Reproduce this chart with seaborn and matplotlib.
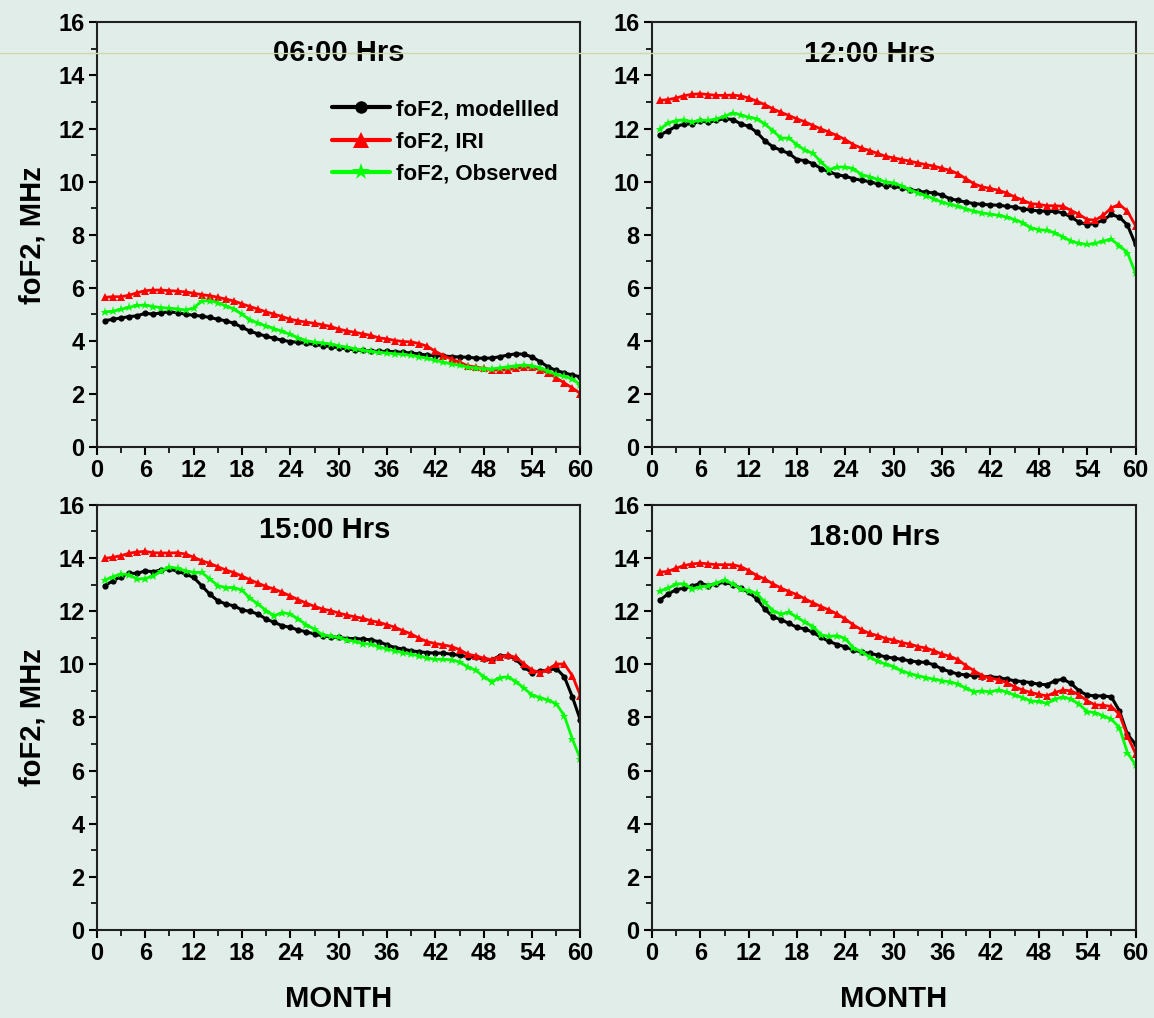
import numpy as np
import pandas as pd
import matplotlib.pyplot as plt
import seaborn as sns
from matplotlib.lines import Line2D
from matplotlib.ticker import MultipleLocator

sns.set_style("ticks")
plt.rcParams["font.family"] = ["Liberation Sans", "DejaVu Sans"]
plt.rcParams["font.weight"] = "bold"
plt.rcParams["text.color"] = "black"
plt.rcParams["axes.labelcolor"] = "black"
plt.rcParams["xtick.color"] = "black"
plt.rcParams["ytick.color"] = "black"

BG = "#e0ede8"

# ------------------------------------------------------------
# data (month 1..60)
# ------------------------------------------------------------
months = list(range(1, 61))

# 06:00 Hrs
mod_06 = [4.76, 4.81, 4.86, 4.91, 4.94, 5.04, 5.00, 5.06, 5.09, 5.06,
          5.00, 4.96, 4.93, 4.88, 4.81, 4.75, 4.66, 4.51, 4.36, 4.26,
          4.17, 4.09, 4.02, 3.97, 3.94, 3.90, 3.86, 3.82, 3.78, 3.74,
          3.70, 3.66, 3.64, 3.61, 3.60, 3.60, 3.59, 3.56, 3.54, 3.50,
          3.46, 3.44, 3.43, 3.40, 3.39, 3.38, 3.35, 3.34, 3.35, 3.40,
          3.46, 3.51, 3.49, 3.39, 3.21, 3.01, 2.88, 2.79, 2.71, 2.64]
iri_06 = [5.64, 5.66, 5.66, 5.72, 5.81, 5.89, 5.91, 5.91, 5.89, 5.87,
          5.84, 5.79, 5.74, 5.70, 5.64, 5.57, 5.50, 5.39, 5.29, 5.19,
          5.09, 5.00, 4.91, 4.81, 4.75, 4.70, 4.66, 4.60, 4.54, 4.44,
          4.37, 4.32, 4.26, 4.20, 4.11, 4.07, 4.01, 3.97, 3.96, 3.89,
          3.79, 3.60, 3.44, 3.31, 3.19, 3.06, 3.01, 2.96, 2.91, 2.89,
          2.91, 2.96, 3.00, 3.00, 2.91, 2.79, 2.60, 2.41, 2.22, 2.01]
obs_06 = [5.09, 5.11, 5.19, 5.26, 5.33, 5.35, 5.29, 5.25, 5.23, 5.20,
          5.16, 5.23, 5.50, 5.51, 5.44, 5.31, 5.20, 5.00, 4.79, 4.66,
          4.56, 4.46, 4.35, 4.24, 4.11, 4.00, 3.95, 3.92, 3.88, 3.81,
          3.76, 3.70, 3.65, 3.60, 3.56, 3.54, 3.51, 3.49, 3.45, 3.40,
          3.34, 3.26, 3.19, 3.13, 3.08, 3.01, 2.98, 2.95, 2.94, 2.98,
          3.02, 3.06, 3.09, 3.06, 2.98, 2.85, 2.73, 2.66, 2.56, 2.35]

# 12:00 Hrs
mod_12 = [11.75, 11.92, 12.08, 12.17, 12.17, 12.30, 12.23, 12.31, 12.37, 12.34,
          12.18, 12.08, 11.86, 11.54, 11.31, 11.18, 11.06, 10.83, 10.79, 10.67,
          10.49, 10.36, 10.26, 10.20, 10.11, 10.05, 10.00, 9.91, 9.85, 9.83,
          9.76, 9.70, 9.64, 9.60, 9.57, 9.49, 9.35, 9.29, 9.22, 9.17,
          9.14, 9.12, 9.11, 9.07, 9.04, 8.98, 8.92, 8.90, 8.87, 8.88,
          8.82, 8.66, 8.47, 8.38, 8.42, 8.55, 8.76, 8.66, 8.36, 7.63]
iri_12 = [13.06, 13.09, 13.15, 13.24, 13.29, 13.31, 13.28, 13.25, 13.25, 13.26,
          13.23, 13.15, 13.03, 12.90, 12.74, 12.61, 12.49, 12.36, 12.25, 12.11,
          11.98, 11.86, 11.73, 11.58, 11.39, 11.26, 11.17, 11.06, 10.95, 10.89,
          10.83, 10.77, 10.70, 10.64, 10.58, 10.50, 10.42, 10.29, 10.10, 9.91,
          9.80, 9.74, 9.67, 9.57, 9.42, 9.30, 9.17, 9.14, 9.09, 9.09,
          9.07, 8.91, 8.76, 8.57, 8.55, 8.73, 9.01, 9.14, 8.88, 8.34]
obs_12 = [11.98, 12.21, 12.30, 12.33, 12.25, 12.31, 12.31, 12.36, 12.46, 12.59,
          12.52, 12.42, 12.37, 12.17, 11.92, 11.64, 11.64, 11.39, 11.18, 11.06,
          10.73, 10.45, 10.55, 10.55, 10.49, 10.26, 10.18, 10.08, 9.99, 9.95,
          9.83, 9.70, 9.57, 9.47, 9.35, 9.22, 9.14, 9.07, 8.97, 8.88,
          8.82, 8.77, 8.73, 8.66, 8.57, 8.45, 8.26, 8.19, 8.16, 8.07,
          7.91, 7.76, 7.67, 7.63, 7.67, 7.76, 7.82, 7.59, 7.32, 6.54]

# 15:00 Hrs
mod_15 = [12.96, 13.15, 13.30, 13.43, 13.42, 13.52, 13.48, 13.56, 13.59, 13.50,
          13.40, 13.27, 12.96, 12.64, 12.39, 12.27, 12.20, 12.05, 11.99, 11.89,
          11.70, 11.58, 11.45, 11.39, 11.29, 11.22, 11.14, 11.07, 11.04, 11.01,
          10.97, 10.97, 10.95, 10.92, 10.85, 10.73, 10.63, 10.57, 10.51, 10.47,
          10.44, 10.42, 10.42, 10.38, 10.34, 10.29, 10.26, 10.19, 10.17, 10.32,
          10.32, 10.19, 9.88, 9.69, 9.75, 9.78, 9.84, 9.53, 8.77, 7.89]
iri_15 = [13.99, 14.03, 14.09, 14.18, 14.23, 14.25, 14.20, 14.19, 14.19, 14.20,
          14.15, 14.03, 13.90, 13.80, 13.67, 13.55, 13.45, 13.32, 13.18, 13.05,
          12.93, 12.83, 12.71, 12.57, 12.43, 12.30, 12.18, 12.08, 12.02, 11.93,
          11.85, 11.79, 11.73, 11.64, 11.58, 11.49, 11.39, 11.26, 11.14, 10.98,
          10.85, 10.78, 10.73, 10.67, 10.55, 10.38, 10.32, 10.23, 10.18, 10.29,
          10.34, 10.26, 10.01, 9.78, 9.69, 9.82, 10.01, 10.01, 9.57, 8.81]
obs_15 = [13.17, 13.30, 13.40, 13.37, 13.21, 13.23, 13.33, 13.52, 13.67, 13.61,
          13.52, 13.46, 13.46, 13.21, 12.96, 12.89, 12.89, 12.79, 12.48, 12.27,
          12.02, 11.83, 11.95, 11.89, 11.70, 11.49, 11.32, 11.11, 11.07, 11.01,
          10.92, 10.86, 10.78, 10.76, 10.66, 10.57, 10.51, 10.44, 10.38, 10.32,
          10.23, 10.19, 10.19, 10.17, 10.09, 9.90, 9.78, 9.53, 9.35, 9.50,
          9.53, 9.35, 9.10, 8.84, 8.75, 8.65, 8.52, 8.06, 7.18, 6.43]

# 18:00 Hrs
mod_18 = [12.42, 12.65, 12.81, 12.87, 12.94, 13.05, 12.96, 13.03, 13.09, 13.00,
          12.87, 12.71, 12.46, 12.08, 11.79, 11.68, 11.54, 11.39, 11.33, 11.20,
          11.01, 10.86, 10.74, 10.66, 10.53, 10.47, 10.41, 10.35, 10.28, 10.23,
          10.19, 10.13, 10.09, 10.07, 9.98, 9.82, 9.72, 9.63, 9.60, 9.57,
          9.54, 9.53, 9.50, 9.44, 9.38, 9.35, 9.31, 9.25, 9.23, 9.38,
          9.44, 9.28, 9.00, 8.84, 8.81, 8.81, 8.77, 8.25, 7.36, 6.99]
iri_18 = [13.47, 13.50, 13.62, 13.72, 13.78, 13.81, 13.78, 13.75, 13.75, 13.75,
          13.68, 13.53, 13.34, 13.21, 13.03, 12.87, 12.74, 12.62, 12.46, 12.31,
          12.17, 12.04, 11.89, 11.70, 11.48, 11.30, 11.16, 11.08, 10.97, 10.91,
          10.82, 10.76, 10.67, 10.61, 10.51, 10.38, 10.30, 10.17, 9.94, 9.75,
          9.57, 9.48, 9.42, 9.31, 9.15, 9.03, 8.94, 8.87, 8.81, 8.94,
          9.03, 9.00, 8.85, 8.62, 8.47, 8.46, 8.41, 8.12, 7.30, 6.64]
obs_18 = [12.77, 12.86, 13.03, 13.03, 12.84, 12.92, 12.96, 13.05, 13.18, 13.03,
          12.84, 12.77, 12.67, 12.33, 12.02, 11.89, 11.96, 11.77, 11.58, 11.42,
          11.11, 11.05, 11.08, 10.97, 10.61, 10.48, 10.28, 10.11, 10.01, 9.91,
          9.75, 9.65, 9.57, 9.50, 9.44, 9.38, 9.34, 9.25, 9.09, 8.97,
          9.00, 8.96, 9.04, 8.96, 8.84, 8.75, 8.62, 8.60, 8.53, 8.69,
          8.77, 8.69, 8.50, 8.22, 8.18, 8.06, 7.93, 7.62, 6.67, 6.21]

panel_titles = ["06:00 Hrs", "12:00 Hrs", "15:00 Hrs", "18:00 Hrs"]
series_names = ["foF2, modellled", "foF2, IRI", "foF2, Observed"]
panels = [(mod_06, iri_06, obs_06), (mod_12, iri_12, obs_12),
          (mod_15, iri_15, obs_15), (mod_18, iri_18, obs_18)]

# ------------------------------------------------------------
# styling per series
# ------------------------------------------------------------
styles = [
    dict(color="black", marker="o", markersize=4.5, linewidth=2.2),
    dict(color="#ff0000", marker="^", markersize=5.5, linewidth=2.0),
    dict(color="#00ff00", marker="*", markersize=6.5, linewidth=2.0),
]

fig = plt.figure(figsize=(11.54, 10.18), dpi=100, facecolor=BG)

# axes boxes in figure fractions [left, bottom, width, height]
boxes = [
    [0.084, 0.561, 0.419, 0.417],
    [0.565, 0.561, 0.419, 0.417],
    [0.084, 0.0865, 0.419, 0.4175],
    [0.565, 0.0865, 0.419, 0.4175],
]
title_pos = [(0.50, 0.928), (0.45, 0.925), (0.47, 0.94), (0.46, 0.925)]

for i, box in enumerate(boxes):
    ax = fig.add_axes(box)
    ax.set_facecolor(BG)
    mod, iri, obs = panels[i]
    df = pd.DataFrame({"month": months, "mod": mod, "iri": iri, "obs": obs})
    for col, name, st in zip(["mod", "iri", "obs"], series_names, styles):
        sns.lineplot(data=df, x="month", y=col, ax=ax, label=name,
                     markeredgewidth=0, **st)

    ax.set_xlim(0, 60)
    ax.set_ylim(0, 16)
    ax.xaxis.set_major_locator(MultipleLocator(6))
    ax.xaxis.set_minor_locator(MultipleLocator(3))
    ax.yaxis.set_major_locator(MultipleLocator(2))
    ax.yaxis.set_minor_locator(MultipleLocator(1))
    ax.tick_params(which="major", direction="out", length=6, width=1.5,
                   labelsize=17, pad=3)
    ax.tick_params(which="minor", direction="out", length=4, width=1.2)
    for lab in ax.get_xticklabels() + ax.get_yticklabels():
        lab.set_fontweight("bold")
    for sp in ax.spines.values():
        sp.set_visible(True)
        sp.set_linewidth(1.5)
        sp.set_color("#202020")

    ax.text(title_pos[i][0], title_pos[i][1], panel_titles[i],
            transform=ax.transAxes, ha="center", va="center",
            fontsize=21, fontweight="bold")

    ax.set_xlabel("")
    ax.set_ylabel("")
    if i % 2 == 0:
        ax.set_ylabel("foF2, MHz", fontsize=21, fontweight="bold", labelpad=8)
    if i >= 2:
        ax.set_xlabel("MONTH", fontsize=21, fontweight="bold", labelpad=14)

    if i == 0:
        leg = ax.legend(loc="upper right", bbox_to_anchor=(0.975, 0.84),
                        frameon=False, fontsize=16, handlelength=2.6,
                        handletextpad=0.3, labelspacing=0.5, markerscale=2.0,
                        borderaxespad=0)
        for txt in leg.get_texts():
            txt.set_fontweight("bold")
        for h in leg.get_lines():
            h.set_linewidth(3)
    else:
        ax.get_legend().remove()

# faint scan line crossing the top of the figure
fig.add_artist(Line2D([0, 1], [0.948, 0.948], transform=fig.transFigure,
                      color="#cfd9a6", linewidth=1, zorder=10))

fig.savefig("out.png", dpi=100, facecolor=BG)
